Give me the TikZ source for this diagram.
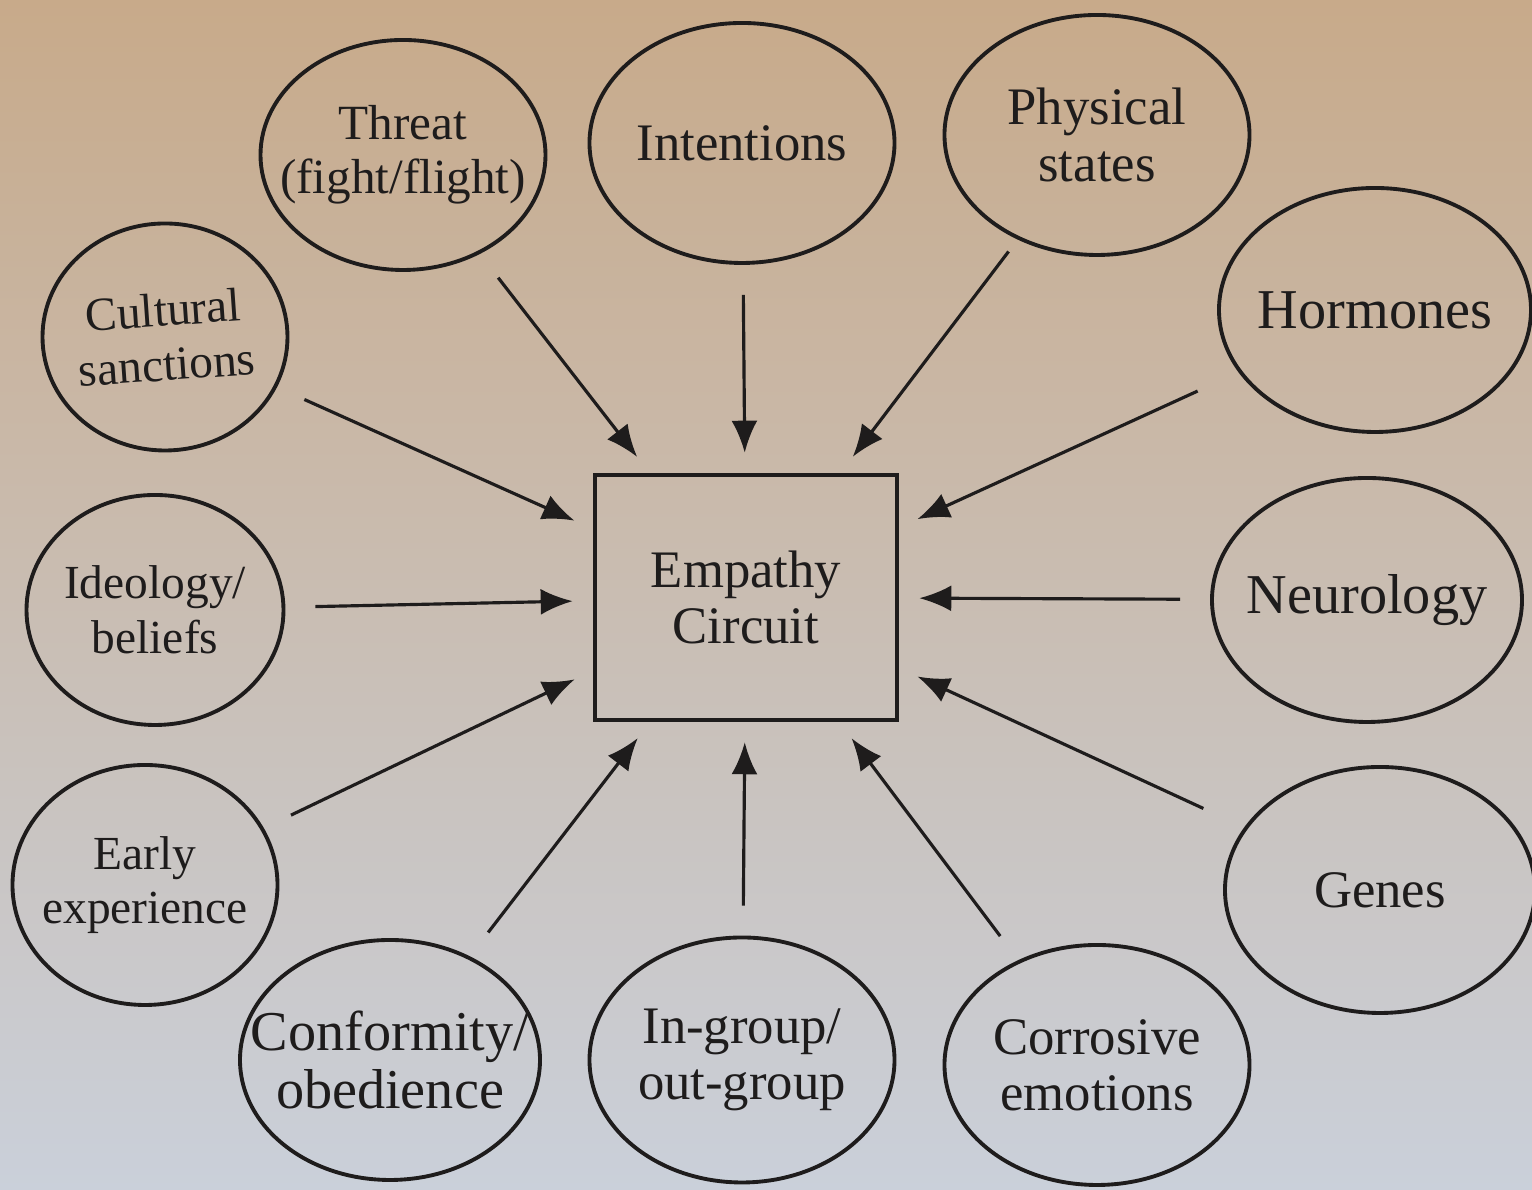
\documentclass[tikz,border=0pt]{standalone}
\usepackage{fontspec}
\setmainfont{Liberation Serif}
\usetikzlibrary{shapes.geometric,arrows.meta,positioning}
\definecolor{bgtop}{RGB}{200,170,138}
\definecolor{bgmid}{RGB}{214,205,199}
\definecolor{bgbot}{RGB}{202,208,218}
\definecolor{ink}{RGB}{30,28,28}
\tikzstyle{factor} = [ellipse, draw=ink, line width=1.1pt, inner sep=0pt]
\tikzstyle{tag} = [align=center, text=ink, inner sep=0pt, font=\fontsize{15}{16}\selectfont]
\tikzstyle{small} = [font=\fontsize{13.5}{15.5}\selectfont]
\tikzstyle{big} = [font=\fontsize{16}{16.5}\selectfont]
\tikzstyle{circuit} = [rectangle, draw=ink, line width=1.3pt, minimum width=3.02cm, minimum height=2.45cm, align=center, text=ink, font=\fontsize{15}{16}\selectfont]
\tikzstyle{inarrow} = [draw=ink, line width=0.9pt, -{Latex[length=3.2mm,width=2.6mm]}, shorten <=0.3cm, shorten >=0.2cm]

\begin{document}
\begin{tikzpicture}
\shade[top color=bgtop, middle color=bgmid, bottom color=bgbot] (0,0) rectangle (15.32,11.90);
\useasboundingbox (0,0) rectangle (15.32,11.90);
\node[circuit] (box) at (7.46,5.925) {Empathy\\Circuit};
% top row
\node[factor, minimum width=2.85cm, minimum height=2.30cm] (threat) at (4.03,10.35) {};
\node[factor, minimum width=3.05cm, minimum height=2.40cm] (intent) at (7.42,10.47) {};
\node[factor, minimum width=3.05cm, minimum height=2.40cm] (phys) at (10.97,10.55) {};
% right side
\node[factor, minimum width=3.12cm, minimum height=2.44cm] (horm) at (13.75,8.80) {};
\node[factor, minimum width=3.10cm, minimum height=2.44cm] (neuro) at (13.67,5.90) {};
\node[factor, minimum width=3.10cm, minimum height=2.46cm] (genes) at (13.80,3.00) {};
% bottom row
\node[factor, minimum width=3.05cm, minimum height=2.40cm] (corr) at (10.97,1.25) {};
\node[factor, minimum width=3.05cm, minimum height=2.45cm] (ingroup) at (7.42,1.30) {};
\node[factor, minimum width=3.00cm, minimum height=2.40cm] (conform) at (3.90,1.30) {};
% left side
\node[factor, minimum width=2.65cm, minimum height=2.40cm] (early) at (1.45,3.05) {};
\node[factor, minimum width=2.57cm, minimum height=2.30cm] (ideo) at (1.55,5.80) {};
\node[factor, minimum width=2.45cm, minimum height=2.27cm] (cult) at (1.65,8.53) {};

% labels
\node[tag, font=\fontsize{14}{15.5}\selectfont] (threatlbl) at (threat) {Threat\\(fight/flight)};
\node[tag] (intentlbl) at (intent) {Intentions};
\node[tag] (physlbl) at (phys) {Physical\\states};
\node[tag, big] (hormlbl) at (horm) {Hormones};
\node[tag, big] (neurolbl) at (neuro) {Neurology};
\node[tag] (geneslbl) at (genes) {Genes};
\node[tag] (corrlbl) at (corr) {Corrosive\\emotions};
\node[tag] (ingrouplbl) at (ingroup) {In-group/\\out-group};
\node[tag, big] (conformlbl) at (conform) {Conformity/\\obedience};
\node[tag, small] (earlylbl) at (early) {Early\\experience};
\node[tag, small] (ideolbl) at (ideo) {Ideology/\\beliefs};
\node[tag, small, rotate=4] (cultlbl) at (cult) {Cultural\\sanctions};

\draw[inarrow] (threat) -- (box);
\draw[inarrow] (intent) -- (box);
\draw[inarrow, shorten <=0.15cm] (phys) -- (box);
\draw[inarrow, shorten <=0.45cm] (horm) -- (box);
\draw[inarrow] (neuro) -- (box);
\draw[inarrow, shorten <=0.45cm] (genes) -- (box);
\draw[inarrow] (corr) -- (box);
\draw[inarrow] (ingroup) -- (box);
\draw[inarrow] (conform) -- (box);
\draw[inarrow] (early) -- (box);
\draw[inarrow] (ideo) -- (box);
\draw[inarrow] (cult) -- (box);
\end{tikzpicture}
\end{document}
